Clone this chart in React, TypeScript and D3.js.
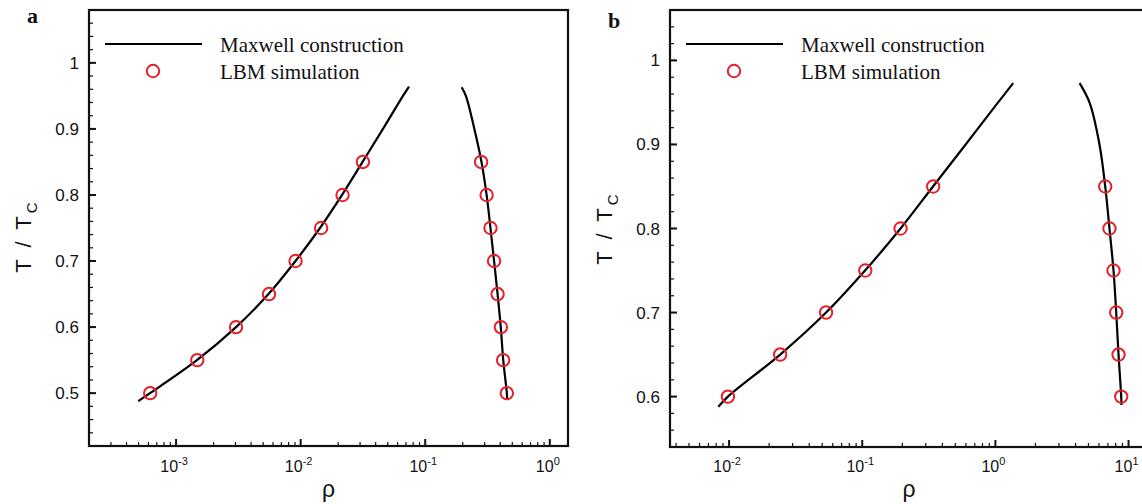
import React from "react";
import * as d3 from "d3";

// panel a: reduced temperature levels of the LBM runs
const tempA = [0.5, 0.55, 0.6, 0.65, 0.7, 0.75, 0.8, 0.85];
const gasRhoA = [6.2e-4, 1.48e-3, 3.03e-3, 5.57e-3, 9.1e-3, 0.0146, 0.0217, 0.0316];
const liquidRhoA = [0.452, 0.422, 0.405, 0.381, 0.357, 0.334, 0.311, 0.281];

// panel a: Maxwell construction (coexistence curve)
const curveGasTA = [0.488, 0.5, 0.55, 0.6, 0.65, 0.7, 0.75, 0.8, 0.85, 0.9, 0.95, 0.964];
const curveGasRhoA = [4.97e-4, 6.18e-4, 1.47e-3, 3.03e-3, 5.52e-3, 9.09e-3, 0.0143, 0.0215, 0.0314, 0.0458, 0.0663, 0.0741];
const curveLiqTA = [0.49, 0.5, 0.55, 0.6, 0.65, 0.7, 0.75, 0.8, 0.85, 0.9, 0.95, 0.963];
const curveLiqRhoA = [0.455, 0.452, 0.423, 0.404, 0.381, 0.357, 0.334, 0.311, 0.283, 0.248, 0.212, 0.196];

// panel b
const tempB = [0.6, 0.65, 0.7, 0.75, 0.8, 0.85];
const gasRhoB = [9.8e-3, 0.0242, 0.0535, 0.1054, 0.194, 0.341];
const liquidRhoB = [8.81, 8.41, 8.08, 7.71, 7.19, 6.68];

const curveGasTB = [0.588, 0.6, 0.65, 0.7, 0.75, 0.8, 0.85, 0.9, 0.95, 0.973];
const curveGasRhoB = [8.3e-3, 9.8e-3, 0.0242, 0.0535, 0.105, 0.194, 0.34, 0.598, 1.048, 1.36];
const curveLiqTB = [0.59, 0.6, 0.65, 0.7, 0.75, 0.8, 0.85, 0.9, 0.95, 0.973];
const curveLiqRhoB = [8.85, 8.81, 8.41, 8.08, 7.71, 7.19, 6.68, 6.05, 5.09, 4.29];

// axis ticks
const yMajorA = [0.5, 0.6, 0.7, 0.8, 0.9, 1];
const yMajorB = [0.6, 0.7, 0.8, 0.9, 1];
const xDecadesA = [-3, -2, -1, 0];
const xDecadesB = [-2, -1, 0, 1];

const legendLabels = ["Maxwell construction", "LBM simulation"];

const RED = "#e3202b";
const SANS = "'Liberation Sans', Arial, sans-serif";
const SERIF = "'Liberation Serif', 'Times New Roman', serif";

const zip = (a: number[], b: number[]) => a.map((v, i) => [v, b[i]] as [number, number]);

function Panel({ letter, x0, x1, y0, y1, xDomain, yDomain, yMajor, decades, gas, liq, tPts, curveGas, curveLiq, letterY, titleY }: any) {
  const x = d3.scaleLog().domain(xDomain).range([x0, x1]);
  const y = d3.scaleLinear().domain(yDomain).range([y1, y0]);

  const lineGen = d3
    .line<[number, number]>()
    .x((d) => x(d[0]))
    .y((d) => y(d[1]))
    .curve(d3.curveCatmullRom.alpha(0.5));

  // minor ticks, every 0.02 on y, 2..9 in each decade on x
  const yMinor = d3.range(Math.ceil(yDomain[0] / 0.02), Math.floor(yDomain[1] / 0.02) + 1).map((k) => k * 0.02);
  const xMinor: number[] = [];
  for (let e = Math.floor(Math.log10(xDomain[0])); e <= Math.ceil(Math.log10(xDomain[1])); e++) {
    for (let m = 2; m <= 9; m++) {
      const v = m * Math.pow(10, e);
      if (v >= xDomain[0] && v <= xDomain[1]) xMinor.push(v);
    }
  }

  const cx = (x0 + x1) / 2;
  const legY = y0 + 34;

  return (
    <g>
      {/* curves */}
      <path d={lineGen(curveGas) || ""} fill="none" stroke="#000" strokeWidth={2.2} />
      <path d={lineGen(curveLiq) || ""} fill="none" stroke="#000" strokeWidth={2.2} />

      {/* LBM circles */}
      {[...zip(gas, tPts), ...zip(liq, tPts)].map((d, i) => (
        <circle key={i} cx={x(d[0])} cy={y(d[1])} r={6.2} fill="none" stroke={RED} strokeWidth={2} />
      ))}

      {/* frame */}
      <rect x={x0} y={y0} width={x1 - x0} height={y1 - y0} fill="none" stroke="#111" strokeWidth={2.2} />

      {/* y ticks */}
      {yMinor.map((v, i) => (
        <line key={"ym" + i} x1={x0} x2={x0 + 4} y1={y(v)} y2={y(v)} stroke="#111" strokeWidth={1.2} />
      ))}
      {yMajor.map((v: number) => (
        <g key={"yM" + v}>
          <line x1={x0} x2={x0 + 7} y1={y(v)} y2={y(v)} stroke="#111" strokeWidth={2} />
          <text x={x0 - 10} y={y(v) + 6} textAnchor="end" fontFamily={SANS} fontSize={17} fill="#111">
            {String(v)}
          </text>
        </g>
      ))}

      {/* x ticks */}
      {xMinor.map((v, i) => (
        <line key={"xm" + i} x1={x(v)} x2={x(v)} y1={y1} y2={y1 - 4} stroke="#111" strokeWidth={1.2} />
      ))}
      {decades.map((e: number) => (
        <g key={"xM" + e}>
          <line x1={x(Math.pow(10, e))} x2={x(Math.pow(10, e))} y1={y1} y2={y1 - 7} stroke="#111" strokeWidth={2} />
          <text x={x(Math.pow(10, e)) - 2} y={472} textAnchor="middle" fontFamily={SANS} fontSize={16} fill="#111">
            10
            <tspan dy={-7} fontSize={11}>
              {String(e)}
            </tspan>
          </text>
        </g>
      ))}

      {/* axis titles */}
      <text x={cx} y={497} textAnchor="middle" fontFamily={SANS} fontSize={23} fill="#111">
        ρ
      </text>
      <text
        transform={`translate(${x0 - 58},${titleY}) rotate(-90)`}
        textAnchor="middle"
        fontFamily={SANS}
        fontSize={22}
        letterSpacing={3}
        fill="#111"
      >
        T / T
        <tspan dy={6} fontSize={15}>
          C
        </tspan>
      </text>

      {/* panel letter */}
      <text x={x0 - 62} y={letterY} fontFamily={SERIF} fontWeight="bold" fontSize={22} fill="#111">
        {letter}
      </text>

      {/* legend */}
      <line x1={x0 + 16} x2={x0 + 113} y1={legY} y2={legY} stroke="#000" strokeWidth={2.2} />
      <circle cx={x0 + 64} cy={legY + 27} r={6.2} fill="none" stroke={RED} strokeWidth={2} />
      <text x={x0 + 131} y={legY + 8} fontFamily={SERIF} fontSize={21} fill="#111">
        {legendLabels[0]}
      </text>
      <text x={x0 + 131} y={legY + 35} fontFamily={SERIF} fontSize={21} fill="#111">
        {legendLabels[1]}
      </text>
    </g>
  );
}

export default function App() {
  return (
    <svg
      width={1142}
      height={504}
      style={{ position: "absolute", left: 0, top: 0, background: "#fff" }}
    >
      <Panel
        letter="a"
        letterY={23}
        titleY={236}
        x0={89}
        x1={568}
        y0={10}
        y1={446}
        xDomain={[2e-4, 1.4]}
        yDomain={[0.42, 1.08]}
        yMajor={yMajorA}
        decades={xDecadesA}
        gas={gasRhoA}
        liq={liquidRhoA}
        tPts={tempA}
        curveGas={zip(curveGasRhoA, curveGasTA)}
        curveLiq={zip(curveLiqRhoA, curveLiqTA)}
      />
      <Panel
        letter="b"
        letterY={28}
        titleY={228}
        x0={670}
        x1={1148}
        y0={10}
        y1={447}
        xDomain={[3.6e-3, 14]}
        yDomain={[0.54, 1.06]}
        yMajor={yMajorB}
        decades={xDecadesB}
        gas={gasRhoB}
        liq={liquidRhoB}
        tPts={tempB}
        curveGas={zip(curveGasRhoB, curveGasTB)}
        curveLiq={zip(curveLiqRhoB, curveLiqTB)}
      />
    </svg>
  );
}
